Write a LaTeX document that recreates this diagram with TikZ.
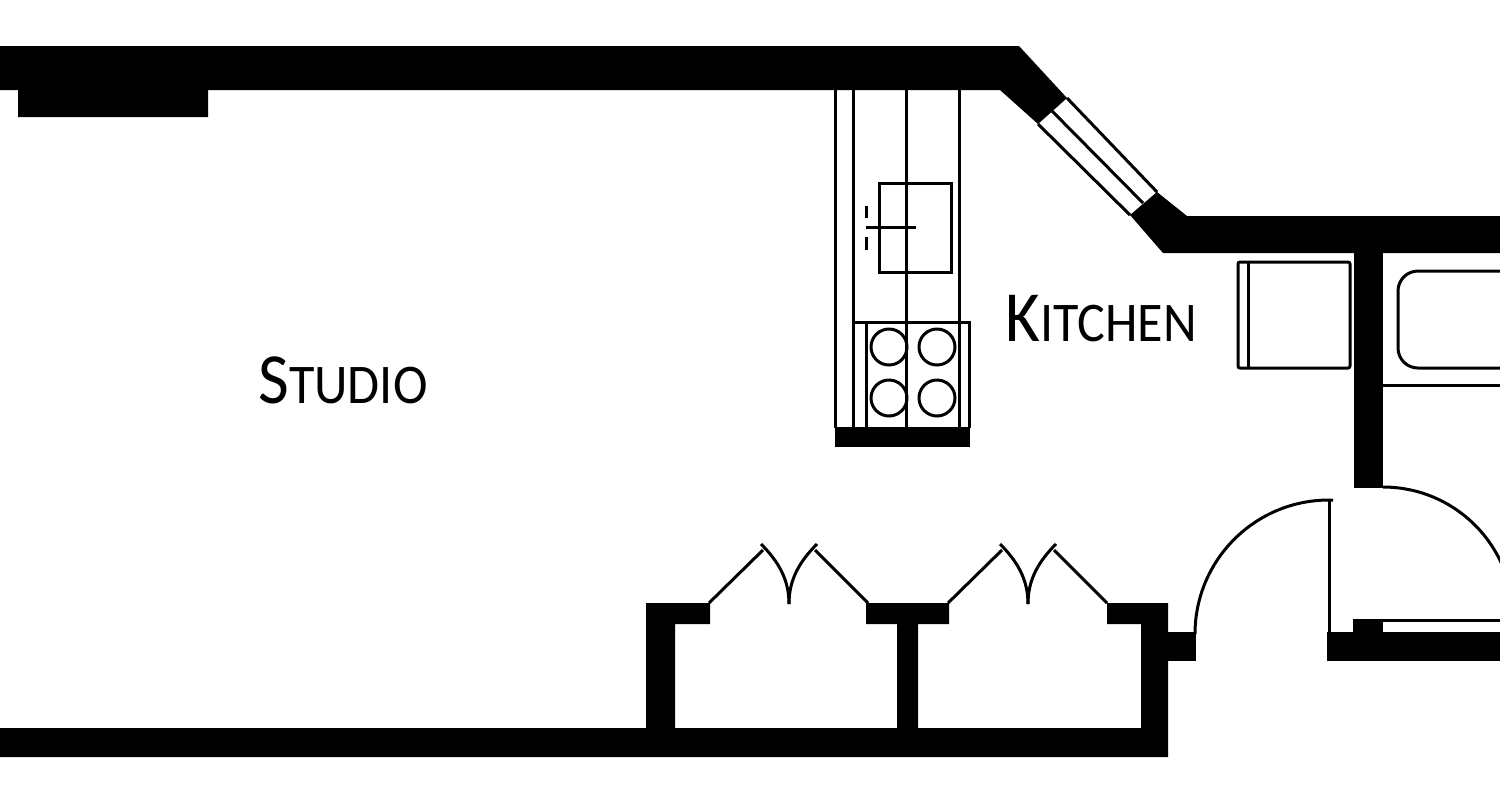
\documentclass[tikz,border=0pt]{standalone}
\usepackage{fontspec}
\setmainfont{Carlito}
\newfontfamily\roomfont[FakeStretch=0.93]{Carlito}
\newcommand{\capsize}{\fontsize{36}{36}\selectfont}
\newcommand{\lowsize}{\fontsize{28}{28}\selectfont}

\begin{document}
\begin{tikzpicture}
    [
    x=0.5pt, y=-0.5pt,
    wall/.style={fill=black, draw=none},
    fixture/.style={draw=black, line width=1.5pt},
    door/.style={draw=black, line width=1.5pt},
    roomlabel/.style={inner sep=0pt, text=black, font=\roomfont},
    ]

    \useasboundingbox (0,0) rectangle (1500,800);
    \clip (0,0) rectangle (1500,800);

    % outer walls
    \fill[wall] (0,46) -- (1019,46) -- (1067,98) -- (1038,124) -- (1000,90) -- (208,90) -- (208,117)
        -- (18,117) -- (18,90) -- (0,90) -- cycle;
    \fill[wall] (1157,192) -- (1187,216) -- (1500,216) -- (1500,253) -- (1163,253) -- (1130,215) -- cycle;
    \fill[wall] (1354,253) rectangle (1383,488);
    \fill[wall] (1327,632) rectangle (1500,661);
    \fill[wall] (1353,619) rectangle (1383,632);
    \fill[wall] (1168,632) rectangle (1196,661);

    % closets
    \fill[wall] (0,728) -- (646,728) -- (646,603) -- (710,603) -- (710,624) -- (675,624) -- (675,728)
        -- (897,728) -- (897,624) -- (866,624) -- (866,603) -- (949,603) -- (949,624) -- (918,624)
        -- (918,728) -- (1141,728) -- (1141,624) -- (1107,624) -- (1107,603) -- (1168,603)
        -- (1168,757) -- (0,757) -- cycle;

    % diagonal window
    \draw[fixture] (1067,98) -- (1157,192);
    \draw[fixture] (1052,111) -- (1143,203);
    \draw[fixture] (1038,124) -- (1130,215);

    % counter and sink
    \foreach \counterx in {835,853,906,959}
        \draw[fixture] (\counterx,90) -- (\counterx,428);
    \draw[fixture] (879,183) rectangle (951,272);
    \draw[fixture] (866,227) -- (916,227);
    \draw[fixture] (866,206) -- (866,218);
    \draw[fixture] (866,237) -- (866,250);

    % stove
    \draw[fixture] (853,322) -- (969,322) -- (969,428);
    \draw[fixture] (866,322) -- (866,428);
    \foreach \burnerx in {889,937}
        \foreach \burnery in {347,398}
            \draw[fixture] (\burnerx,\burnery) circle (9pt);
    \fill[wall] (835,427) rectangle (970,447);

    % fridge and tub
    \draw[fixture, rounded corners=1pt] (1238,262) rectangle (1350,368);
    \draw[fixture] (1248,262) -- (1248,368);
    \draw[fixture, rounded corners=10pt] (1520,271) -- (1398,271) -- (1398,368) -- (1520,368);
    \draw[fixture] (1383,385) -- (1500,385);
    \draw[fixture] (1383,620) -- (1500,620);

    % bifold closet doors
    \foreach \doorx in {789,1028} {
        \draw[door] (\doorx-80,603) -- (\doorx-26,550);
        \draw[door] (\doorx+26,550) -- (\doorx+79,603);
        \draw[door] (\doorx-28,544) .. controls (\doorx-10,562) and (\doorx,580) .. (\doorx,604);
        \draw[door] (\doorx+28,544) .. controls (\doorx+10,562) and (\doorx,580) .. (\doorx,604);
    }

    % swing doors
    \draw[door] (1329,632) -- (1329,500);
    \draw[door] (1333,500) -- (1329,500) arc[start angle=90, end angle=180, radius=67pt];
    \draw[door] (1383,487) arc[start angle=90, end angle=0, radius=65pt];

    % rooms
    \node[roomlabel, anchor=base west] (lbl_studio) at (258,403)
    {\capsize S\lowsize TUDIO};
    \node[roomlabel, anchor=base west] (lbl_kitchen) at (1005,341)
    {\capsize K\lowsize ITCHEN};
\end{tikzpicture}
\end{document}
